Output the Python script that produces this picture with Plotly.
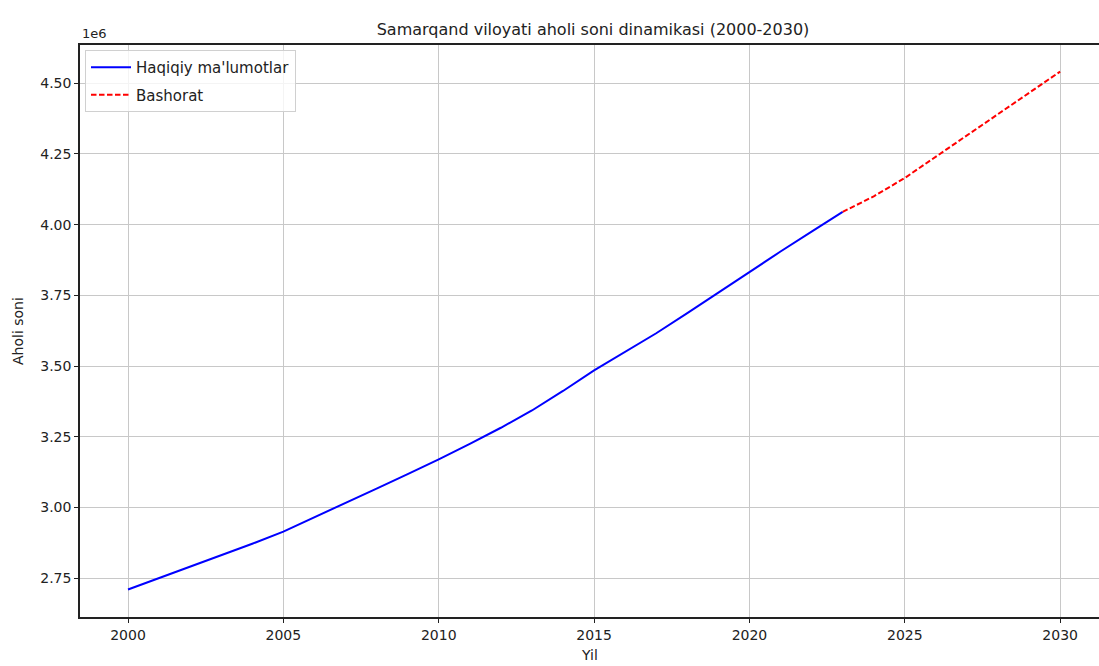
import plotly.graph_objects as go

years_actual = list(range(2000, 2024))
pop_actual = [2.710e6, 2.750e6, 2.790e6, 2.830e6, 2.872e6, 2.915e6, 2.965e6, 3.015e6,
              3.067e6, 3.118e6, 3.170e6, 3.225e6, 3.282e6, 3.343e6, 3.412e6, 3.485e6,
              3.549e6, 3.616e6, 3.687e6, 3.760e6, 3.835e6, 3.905e6, 3.975e6, 4.045e6]
years_forecast = list(range(2023, 2031))
pop_forecast = [4.045e6, 4.100e6, 4.165e6, 4.240e6, 4.318e6, 4.392e6, 4.467e6, 4.541e6]

x_ticks = [2000, 2005, 2010, 2015, 2020, 2025, 2030]
y_ticks = [2.75e6, 3.00e6, 3.25e6, 3.50e6, 3.75e6, 4.00e6, 4.25e6, 4.50e6]
y_tick_text = ["2.75", "3.00", "3.25", "3.50", "3.75", "4.00", "4.25", "4.50"]

title = "Samarqand viloyati aholi soni dinamikasi (2000-2030)"
x_title = "Yil"
y_title = "Aholi soni"
font = "DejaVu Sans"
W, H = 1099, 666
L, R, T, B = 80, 0, 45, 49

fig = go.Figure()
fig.add_trace(go.Scatter(x=years_actual, y=pop_actual, mode="lines",
                         name="Haqiqiy ma'lumotlar", legendgroup="a",
                         line=dict(color="#0000ff", width=2)))
fig.add_trace(go.Scatter(x=years_forecast, y=pop_forecast, mode="lines",
                         name="Bashorat", legendgroup="b",
                         line=dict(color="#ff0000", width=2, dash="5.5px,2.5px")))

fig.update_layout(
    width=W, height=H,
    margin=dict(l=L, r=R, t=T, b=B, autoexpand=False),
    paper_bgcolor="white", plot_bgcolor="white",
    font=dict(family=font, size=14, color="#222"),
    title=dict(text=title, x=593 / W, xanchor="center", y=1 - 29 / H,
               yanchor="middle", font=dict(size=16, color="#222")),
    showlegend=True,
    legend=dict(x=5 / (W - L - R), y=1 - 5 / (H - T - B), xanchor="left", yanchor="top",
                bgcolor="rgba(255,255,255,0.8)", bordercolor="#d0d0d0", borderwidth=1,
                font=dict(size=15, color="#222"), traceorder="grouped",
                tracegroupgap=5, itemwidth=40),
    xaxis=dict(range=[1998.455, 2031.25], tickvals=x_ticks, ticks="outside",
               ticklen=4, tickcolor="#222", showline=True, linecolor="#222",
               linewidth=1.5, mirror=True, showgrid=True, gridcolor="#c8c8c8",
               gridwidth=1, zeroline=False, tickfont=dict(size=14), automargin=False),
    yaxis=dict(range=[2.613e6, 4.635e6], tickvals=y_ticks, ticktext=y_tick_text,
               ticks="outside", ticklen=4, tickcolor="#222", showline=True,
               linecolor="#222", linewidth=1.5, mirror=False, showgrid=True,
               gridcolor="#c8c8c8", gridwidth=1, zeroline=False,
               tickfont=dict(size=14), automargin=False),
)
fig.add_annotation(text="1e6", xref="paper", yref="paper", x=0, y=1,
                   xanchor="left", yanchor="bottom", showarrow=False,
                   font=dict(size=13, color="#222"), yshift=2)
fig.add_annotation(text=x_title, xref="paper", yref="paper", x=0.5, y=-(655 - 617) / (H - T - B),
                   xanchor="center", yanchor="middle", showarrow=False,
                   font=dict(size=14, color="#222"))
fig.add_annotation(text=y_title, xref="paper", yref="paper", x=-(80 - 18) / (W - L - R), y=0.5,
                   xanchor="center", yanchor="middle", showarrow=False, textangle=-90,
                   font=dict(size=14, color="#222"))

fig.write_html("out.html", config={"displayModeBar": False},
               post_script="document.body.style.margin='0';document.body.style.overflow='hidden';")
